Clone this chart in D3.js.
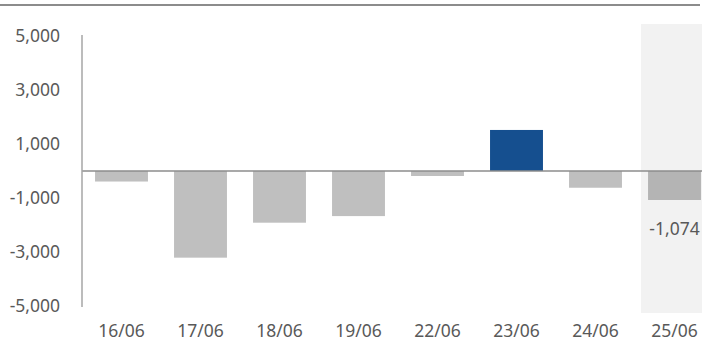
<!DOCTYPE html>
<html>
<head>
<meta charset="utf-8">
<script src="https://cdn.jsdelivr.net/npm/d3@7"></script>
<style>
  body { margin: 0; background: #fff; }
  svg text { font-family: "Noto Sans", sans-serif; fill: #595959; }
</style>
</head>
<body>
<svg id="chart" width="702" height="345"></svg>
<script>
// data
var dates = ["16/06", "17/06", "18/06", "19/06", "22/06", "23/06", "24/06", "25/06"]
var values = [-390, -3210, -1915, -1670, -185, 1520, -620, -1074]
var yTicks = [5000, 3000, 1000, -1000, -3000, -5000]
var highlight = "25/06"   // shaded day, labelled

const width = 702
const height = 345
const svg = d3.select('#chart')

// excel style numbers: plain hyphen for negatives
var fmt = function (v) { return d3.format(",")(v).replace("\u2212", "-") }

var x = d3.scaleBand()
  .domain(dates)
  .range([82, 714])
  .paddingInner(0.33)
  .paddingOuter(0.165)

var y = d3.scaleLinear()
  .domain([-5000, 5000])
  .range([306, 36])

// top rule
svg.append("line")
  .attr("x1", 0).attr("x2", 700)
  .attr("y1", 5).attr("y2", 5)
  .attr("stroke", "#8c8c8c")
  .attr("stroke-width", 2)

// shaded column for last day
var bw = x.bandwidth()
svg.append("rect")
  .attr("x", x(highlight) - 7)
  .attr("y", 24)
  .attr("width", bw + 14)
  .attr("height", 289)
  .attr("fill", "#f2f2f2")

// bars
svg.append("g")
  .selectAll("rect")
  .data(d3.zip(dates, values))
  .enter()
  .append("rect")
  .attr("x", function (d) { return x(d[0]) })
  .attr("width", bw)
  .attr("y", function (d) { return y(Math.max(0, d[1])) })
  .attr("height", function (d) { return Math.abs(y(d[1]) - y(0)) })
  .attr("fill", function (d) {
    if (d[1] > 0) return "#154f8f"
    if (d[0] == highlight) return "#b4b4b4"
    return "#bfbfbf"
  })

// zero line
svg.append("line")
  .attr("x1", 82).attr("x2", 702)
  .attr("y1", y(0)).attr("y2", y(0))
  .attr("stroke", "#8c8c8c")
  .attr("stroke-width", 1.5)

// y axis
var yAxis = svg.append("g")
  .attr("transform", "translate(82,0)")
  .call(d3.axisLeft(y).tickValues(yTicks).tickSize(0).tickPadding(22).tickFormat(fmt))
yAxis.select(".domain").attr("stroke", "#a6a6a6").attr("stroke-width", 1.5)
  .attr("d", "M0," + (y(5000) - 1) + "V" + (y(-5000) + 1))
yAxis.selectAll("text").attr("font-size", 17.5).style("fill", "#595959")
  .attr("font-family", "Noto Sans")

// x labels
svg.append("g")
  .selectAll("text")
  .data(dates)
  .enter()
  .append("text")
  .attr("x", function (d) { return x(d) + bw / 2 })
  .attr("y", 337)
  .attr("text-anchor", "middle")
  .attr("font-size", 17.5)
  .text(function (d) { return d })

// value label on last bar
var last = values[values.length - 1]
svg.append("text")
  .attr("x", x(highlight) + bw / 2)
  .attr("y", y(last) + 35)
  .attr("text-anchor", "middle")
  .attr("font-size", 17.5)
  .text(fmt(last))
</script>
</body>
</html>
